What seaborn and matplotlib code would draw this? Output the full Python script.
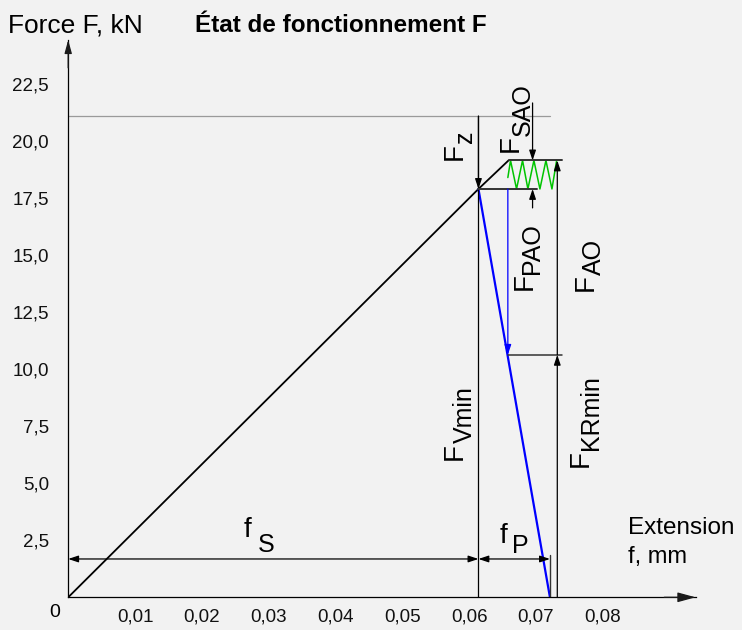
import matplotlib
matplotlib.use("Agg")
import matplotlib.pyplot as plt
import seaborn as sns
import pandas as pd

# ---------------- data (force in kN, extension in mm) ----------------
x_ticks = [0.01, 0.02, 0.03, 0.04, 0.05, 0.06, 0.07, 0.08]
x_tick_labels = ["0,01", "0,02", "0,03", "0,04", "0,05", "0,06", "0,07", "0,08"]
y_ticks = [2.5, 5.0, 7.5, 10.0, 12.5, 15.0, 17.5, 20.0, 22.5]
y_tick_labels = ["2,5", "5,0", "7,5", "10,0", "12,5", "15,0", "17,5", "20,0", "22,5"]

bolt_f = [0.0, 0.0614, 0.0659]          # bolt characteristic
bolt_F = [0.0, 17.9, 19.15]
plate_f = [0.0614, 0.0721]              # clamped parts characteristic
plate_F = [17.9, 0.0]
zigzag_f = [0.0658, 0.0662, 0.0671, 0.0680, 0.0688, 0.0697, 0.0706, 0.0715, 0.0724, 0.0731]
zigzag_F = [18.4, 19.15, 17.9, 19.15, 17.9, 19.15, 17.9, 19.15, 17.9, 19.15]

F_V = 17.9          # preload level
F_Smax = 19.15      # max bolt force
F_KR = 10.63        # min residual clamp force
F_ref = 21.1        # grey reference level
F_SAO_top = 21.67
F_SAO_bot = 17.07
f_S = 0.0614
f_tot = 0.0721
f_PAO = 0.0658
f_SAO = 0.0695
f_AO = 0.0732
f_guide_end = 0.0739
f_mid_end = 0.0701
F_dim = 1.68
F_tick_top = 1.86

W, H = 742, 630
BG = "#f2f2f2"

sns.set_theme(style="white")
plt.rcParams["font.family"] = ["Liberation Sans", "DejaVu Sans"]

fig = plt.figure(figsize=(W / 100, H / 100), dpi=100)
fig.patch.set_facecolor(BG)
ax = fig.add_axes([68.2 / W, 32.7 / H, 627.4 / W, 557.3 / H])
ax.set_facecolor(BG)
ax.set_xlim(0, 0.0939)
ax.set_ylim(0, 24.43)

for s in ["top", "right"]:
    ax.spines[s].set_visible(False)
for s in ["left", "bottom"]:
    ax.spines[s].set_color("black")
    ax.spines[s].set_linewidth(0.9)

ax.set_xticks(x_ticks)
ax.set_xticklabels(x_tick_labels)
ax.set_yticks(y_ticks)
ax.set_yticklabels(y_tick_labels)
ax.tick_params(axis="x", direction="inout", length=6, width=0.8, color="#222222",
               labelsize=13.5, pad=5, labelcolor="#111111")
ax.tick_params(axis="y", direction="inout", length=6.5, width=0.8, color="#222222",
               labelsize=13.5, pad=10.5, labelcolor="#111111")
ax.grid(False)

# axis arrowheads
ax.annotate("", xy=(1, 0), xycoords="axes fraction", xytext=(0.95, 0),
            arrowprops=dict(arrowstyle="-|>,head_length=1.1,head_width=0.3", color="k",
                            lw=0.9, shrinkA=0, shrinkB=0, mutation_scale=10))
ax.annotate("", xy=(0, 1), xycoords="axes fraction", xytext=(0, 0.95),
            arrowprops=dict(arrowstyle="-|>,head_length=0.8,head_width=0.22", color="k",
                            lw=0.9, shrinkA=0, shrinkB=0, mutation_scale=10))


def line(xs, ys, color, lw):
    sns.lineplot(x=xs, y=ys, color=color, lw=lw, ax=ax, sort=False,
                 estimator=None, errorbar=None)


# grey reference line
line([0.0, f_tot], [F_ref, F_ref], "#9a9a9a", 0.9)

# main characteristics
line(bolt_f, bolt_F, "black", 1.3)
line(plate_f, plate_F, "#0000ff", 1.6)
line(zigzag_f, zigzag_F, "#00c400", 1.1)

# guide lines
line([f_S, f_S], [0.0, F_ref], "black", 0.9)
line([f_S, f_mid_end], [F_V, F_V], "#333333", 1.4)
line([bolt_f[-1], f_guide_end], [F_Smax, F_Smax], "#333333", 1.4)
line([f_PAO, f_guide_end], [F_KR, F_KR], "#333333", 1.1)
line([f_tot, f_tot], [0.0, F_tick_top], "#333333", 1.0)


def arrow(x0, y0, x1, y1, color="black", style="-|>", lw=0.9):
    ax.annotate("", xy=(x1, y1), xytext=(x0, y0),
                arrowprops=dict(arrowstyle=f"{style},head_length=0.6,head_width=0.2",
                                color=color, lw=lw, shrinkA=0, shrinkB=0, mutation_scale=10))


arrow(f_S, F_ref, f_S, F_V)                       # F_z
arrow(f_SAO, F_SAO_top, f_SAO, F_Smax)            # F_SAO upper
arrow(f_SAO, F_SAO_bot, f_SAO, F_V)               # F_SAO lower
arrow(f_PAO, F_V, f_PAO, F_KR, color="#0000ff")   # F_PAO
arrow(f_AO, 0.0, f_AO, F_KR)                      # F_KRmin
arrow(f_AO, F_KR, f_AO, F_Smax)                   # F_AO
arrow(0.0, F_dim, f_S, F_dim, style="<|-|>")      # f_S
arrow(f_S, F_dim, f_tot, F_dim, style="<|-|>")    # f_P


def ftext(px, py, s, size, **kw):
    fig.text(px / W, 1 - py / H, s, fontsize=size, color="black", **kw)


def rlabel(main_xy, sub_xy, sub):
    kw = dict(rotation=90, rotation_mode="anchor", ha="left", va="baseline")
    ftext(*main_xy, "F", 20, **kw)
    ftext(*sub_xy, sub, 18, **kw)


def hlabel(main_xy, sub_xy, sub):
    kw = dict(ha="left", va="baseline")
    ftext(*main_xy, "f", 20, **kw)
    ftext(*sub_xy, sub, 18, **kw)


rlabel((462, 160), (472, 143), "z")
rlabel((518, 152), (530, 136), "SAO")
rlabel((532, 290), (539, 274), "PAO")
rlabel((593, 291), (601, 275), "AO")
rlabel((462, 460), (472, 443), "Vmin")
rlabel((588, 467), (598, 450), "KRmin")
hlabel((244, 537), (258, 552), "S")
hlabel((500, 543), (512, 553), "P")

ftext(8, 32, "Force F, kN", 19, ha="left", va="baseline")
ftext(195, 32, "État de fonctionnement F", 17.5, ha="left", va="baseline", fontweight="bold")
ftext(628, 534, "Extension", 17.5, ha="left", va="baseline")
ftext(628, 563, "f, mm", 17, ha="left", va="baseline")
ftext(55, 617, "0", 14, ha="center", va="baseline")

fig.savefig("out.png", dpi=100, facecolor=BG)
